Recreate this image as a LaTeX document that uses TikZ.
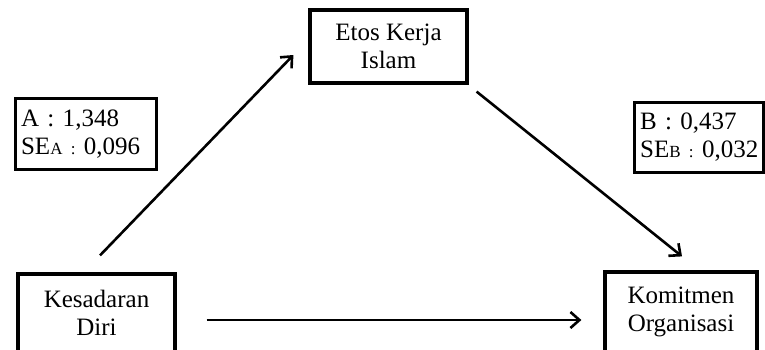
\documentclass[tikz,border=0pt]{standalone}
\usepackage{fontspec}
\setmainfont{Liberation Serif}
\usetikzlibrary{calc,arrows.meta}

\newcommand{\smallsub}[1]{{\fontsize{17}{17}\selectfont #1}}
\frenchspacing

\begin{document}
\begin{tikzpicture}[x=1pt,y=-1pt,
  box/.style={draw,line width=3.2pt,minimum width=157pt,minimum height=75pt,align=center,
    font=\fontsize{25}{28}\selectfont,inner sep=0pt},
  coef/.style={draw,line width=3.2pt,align=left,anchor=north west,
    font=\fontsize{25}{28}\selectfont,inner xsep=5.5pt,inner ysep=0pt},
  link/.style={line width=2.6pt,-{Straight Barb[length=9pt,width=16pt,line width=2.6pt]}}]

\useasboundingbox (0,0) rectangle (765,349);
\clip (0,0) rectangle (765,349);

% Variables
\node (etos) at (388.5,46.5) [box,minimum height=73pt] {Etos Kerja\\Islam};
\node (kes) at (96.5,313) [box,minimum height=78pt] {Kesadaran\\Diri};
\node (kom) at (681,312) [box,minimum width=152pt,minimum height=80pt] {Komitmen\\Organisasi};

% Coefficients
\node (ca) at (14,97) [coef,minimum height=71pt,text width=130pt]
  {\mbox{A : 1,348}\\\mbox{SE\smallsub{A :} 0,096}};
\node (cb) at (633,101) [coef,minimum height=70pt,text width=118pt]
  {\mbox{B : 0,437}\\\mbox{SE\smallsub{B :} 0,032}};

% Paths
\coordinate (ka) at ($(kes.north)+(3.5,-17)$);
\coordinate (eb) at ($(etos.west)+(-15,8.5)$);
\coordinate (ea) at ($(etos.south east)+(8,7)$);
\coordinate (kb) at ($(kom.north)+(1,-14)$);
\coordinate (kc) at ($(kes.east)+(30,7)$);
\coordinate (kd) at (kom.west |- kc);
\draw[link] (ka) -- (eb);
\draw[link] (ea) -- (kb);
\draw[link] (kc) -- ($(kd)+(-22,0)$);
\end{tikzpicture}
\end{document}
